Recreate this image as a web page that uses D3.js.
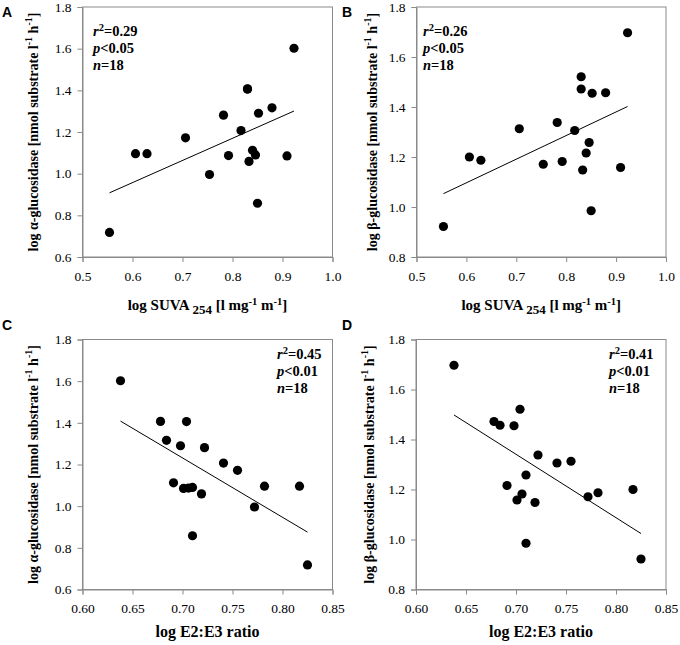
<!DOCTYPE html>
<html>
<head>
<meta charset="utf-8">
<script src="https://cdn.jsdelivr.net/npm/d3@7"></script>
<style>
  body { margin: 0; background: #fff; }
  svg { display: block; }
  .tick text { font-family: "Liberation Serif", "Times New Roman", serif; font-size: 13.5px; }
</style>
</head>
<body>
<div id="chart"></div>
<script>
// one entry per sample (n = 18)
const suva = [0.554, 0.606, 0.629, 0.706, 0.754, 0.782, 0.792, 0.817, 0.830, 0.830, 0.833, 0.840, 0.846, 0.850, 0.852, 0.879, 0.909, 0.923];
const e2e3 = [0.825, 0.817, 0.782, 0.755, 0.772, 0.722, 0.706, 0.741, 0.704, 0.678, 0.719, 0.691, 0.710, 0.710, 0.698, 0.684, 0.701, 0.638];
const alphaGluc = [0.718, 1.096, 1.096, 1.172, 0.996, 1.281, 1.087, 1.207, 1.406, 1.407, 1.059, 1.112, 1.090, 0.858, 1.290, 1.316, 1.085, 1.602];
const betaGluc = [0.922, 1.200, 1.187, 1.313, 1.171, 1.338, 1.182, 1.306, 1.521, 1.472, 1.148, 1.216, 1.258, 0.985, 1.455, 1.457, 1.158, 1.697];

const suvaTicks = [0.5, 0.6, 0.7, 0.8, 0.9, 1.0];
const e2e3Ticks = [0.60, 0.65, 0.70, 0.75, 0.80, 0.85];
const alphaTicks = [0.6, 0.8, 1.0, 1.2, 1.4, 1.6, 1.8];
const betaTicks = [0.8, 1.0, 1.2, 1.4, 1.6, 1.8];

const stats = {
  A: ["0.29", "<0.05", "18"],
  B: ["0.26", "<0.05", "18"],
  C: ["0.45", "<0.01", "18"],
  D: ["0.41", "<0.01", "18"]
};

const W = 680, H = 645;
const GRAY = "#8a8a8a";
const SERIF = "Liberation Serif, Times New Roman, serif";

const svg = d3.select("#chart").append("svg")
  .attr("width", W).attr("height", H)
  .attr("font-family", SERIF);

// least squares fit for the trend line
const fit = (xs, ys) => {
  const mx = d3.mean(xs), my = d3.mean(ys);
  let sxy = 0, sxx = 0;
  xs.forEach((x, i) => { sxy += (x - mx) * (ys[i] - my); sxx += (x - mx) * (x - mx); });
  const b = sxy / sxx;
  return x => my + b * (x - mx);
};

const panels = [
  {id: "A", xs: suva, ys: alphaGluc, xTicks: suvaTicks, yTicks: alphaTicks, xf: ".1f",
   box: [82.5, 332.5, 7, 257], letter: [2, 17], ylabX: 33, xlabY: 310, ann: [93, 36], enzyme: "α", xlab: "suva"},
  {id: "B", xs: suva, ys: betaGluc, xTicks: suvaTicks, yTicks: betaTicks, xf: ".1f",
   box: [416.5, 666, 7, 257], letter: [342, 17], ylabX: 372, xlabY: 310, ann: [423, 36], enzyme: "β", xlab: "suva"},
  {id: "C", xs: e2e3, ys: alphaGluc, xTicks: e2e3Ticks, yTicks: alphaTicks, xf: ".2f",
   box: [82.5, 332.5, 339.5, 589.5], letter: [2, 330], ylabX: 33, xlabY: 637, ann: [277, 359], enzyme: "α", xlab: "e2e3"},
  {id: "D", xs: e2e3, ys: betaGluc, xTicks: e2e3Ticks, yTicks: betaTicks, xf: ".2f",
   box: [416, 666, 339.5, 589.5], letter: [342, 330], ylabX: 369, xlabY: 637, ann: [609, 359], enzyme: "β", xlab: "e2e3"}
];

panels.forEach(p => {
  const [x0, x1, y0, y1] = p.box;
  const x = d3.scaleLinear().domain(d3.extent(p.xTicks)).range([x0, x1]);
  const y = d3.scaleLinear().domain(d3.extent(p.yTicks)).range([y1, y0]);
  const g = svg.append("g");

  // frame
  g.append("rect")
    .attr("x", x0).attr("y", y0)
    .attr("width", x1 - x0).attr("height", y1 - y0)
    .attr("fill", "none").attr("stroke", GRAY).attr("stroke-width", 1);

  const xAxis = g.append("g")
    .attr("transform", `translate(0,${y1})`)
    .call(d3.axisBottom(x).tickValues(p.xTicks).tickFormat(d3.format(p.xf)).tickSizeOuter(0).tickSize(5).tickPadding(9));
  const yAxis = g.append("g")
    .attr("transform", `translate(${x0},0)`)
    .call(d3.axisLeft(y).tickValues(p.yTicks).tickFormat(d3.format(".1f")).tickSizeOuter(0).tickSize(5).tickPadding(6));
  [xAxis, yAxis].forEach(a => {
    a.attr("font-family", SERIF).attr("font-size", 13.5);
    a.select(".domain").attr("stroke", GRAY);
    a.selectAll(".tick line").attr("stroke", GRAY);
    a.selectAll(".tick text").attr("fill", "#000");
  });

  // trend line
  const f = fit(p.xs, p.ys);
  const ex = d3.extent(p.xs);
  g.append("line")
    .attr("x1", x(ex[0])).attr("y1", y(f(ex[0])))
    .attr("x2", x(ex[1])).attr("y2", y(f(ex[1])))
    .attr("stroke", "#000").attr("stroke-width", 1);

  // points
  g.selectAll("circle")
    .data(p.xs.map((d, i) => [d, p.ys[i]]))
    .join("circle")
    .attr("cx", d => x(d[0]))
    .attr("cy", d => y(d[1]))
    .attr("r", 4.6)
    .attr("fill", "#000");

  // panel letter
  svg.append("text")
    .attr("x", p.letter[0]).attr("y", p.letter[1])
    .attr("font-family", "Liberation Sans, Arial, sans-serif")
    .attr("font-weight", "bold").attr("font-size", 14)
    .text(p.id);

  // y label
  const yl = svg.append("text")
    .attr("transform", `translate(${p.ylabX},${(y0 + y1) / 2}) rotate(-90)`)
    .attr("text-anchor", "middle")
    .attr("dominant-baseline", "central")
    .attr("font-weight", "bold").attr("font-size", 14);
  yl.append("tspan").text(`log ${p.enzyme}-glucosidase [nmol substrate l`);
  yl.append("tspan").attr("font-size", 10).attr("dy", -5).text("-1");
  yl.append("tspan").attr("dy", 5).text(" h");
  yl.append("tspan").attr("font-size", 10).attr("dy", -5).text("-1");
  yl.append("tspan").attr("dy", 5).text("]");

  // x label
  const xl = svg.append("text")
    .attr("x", (x0 + x1) / 2).attr("y", p.xlabY)
    .attr("text-anchor", "middle")
    .attr("font-weight", "bold");
  if (p.xlab === "suva") {
    xl.attr("font-size", 15);
    xl.append("tspan").text("log SUVA ");
    xl.append("tspan").attr("font-size", 13).attr("dy", 4).text("254");
    xl.append("tspan").attr("dy", -4).text(" [l mg");
    xl.append("tspan").attr("font-size", 10.5).attr("dy", -5).text("-1");
    xl.append("tspan").attr("dy", 5).text(" m");
    xl.append("tspan").attr("font-size", 10.5).attr("dy", -5).text("-1");
    xl.append("tspan").attr("dy", 5).text("]");
  } else {
    xl.attr("font-size", 16).text("log E2:E3 ratio");
  }

  // statistics
  const [ax, ay] = p.ann;
  const s = stats[p.id];
  const ann = svg.append("g").attr("font-weight", "bold").attr("font-size", 14.5);
  const t1 = ann.append("text").attr("x", ax).attr("y", ay);
  t1.append("tspan").attr("font-style", "italic").text("r");
  t1.append("tspan").attr("font-size", 10.5).attr("dy", -5).text("2");
  t1.append("tspan").attr("dy", 5).text("=" + s[0]);
  const t2 = ann.append("text").attr("x", ax).attr("y", ay + 17);
  t2.append("tspan").attr("font-style", "italic").text("p");
  t2.append("tspan").text(s[1]);
  const t3 = ann.append("text").attr("x", ax).attr("y", ay + 34);
  t3.append("tspan").attr("font-style", "italic").text("n");
  t3.append("tspan").text("=" + s[2]);
});
</script>
</body>
</html>
